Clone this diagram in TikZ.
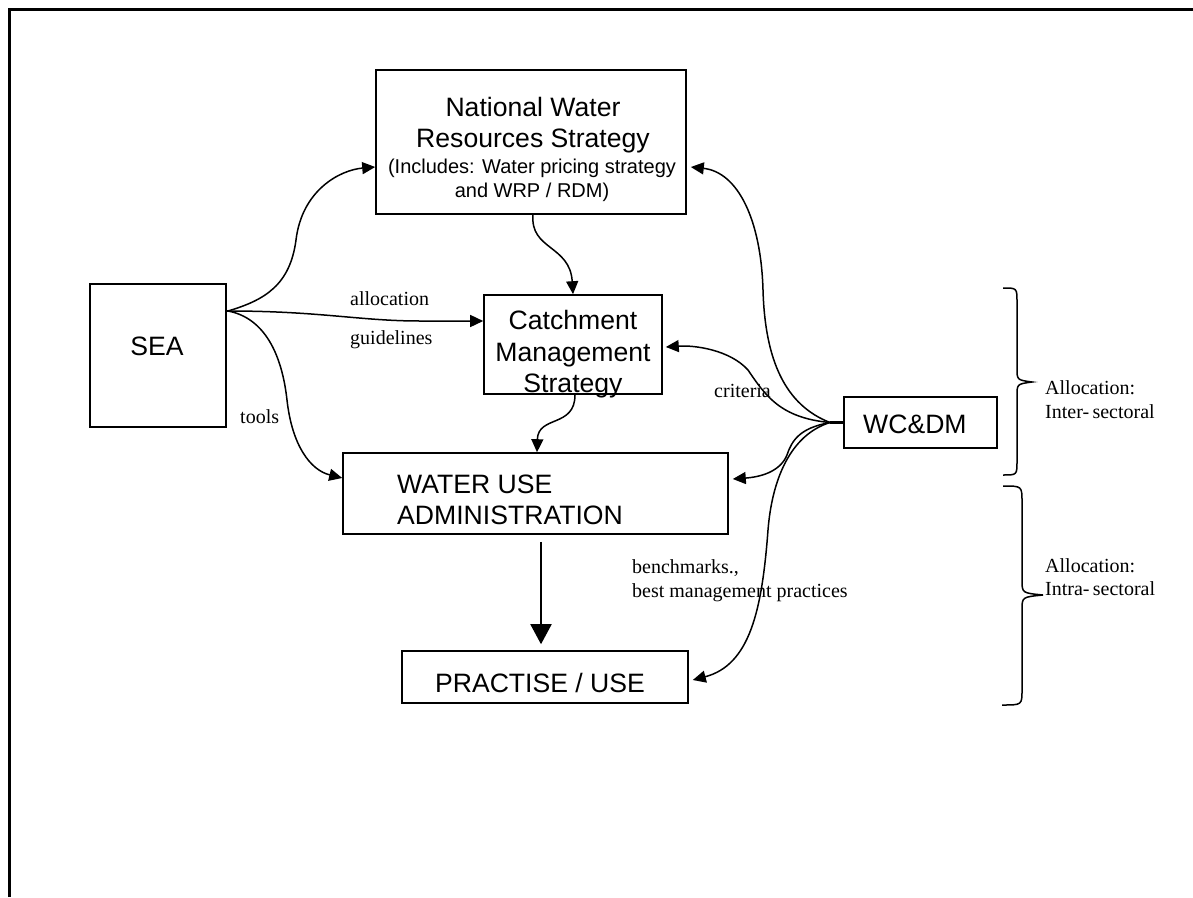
\documentclass[tikz,border=0pt]{standalone}
\usepackage{fontspec}
\setmainfont{Liberation Serif}
\newfontfamily\arialf{Liberation Sans}
\usetikzlibrary{arrows.meta}
\begin{document}
\begin{tikzpicture}[x=1pt,y=-1pt,
  box/.style={draw, line width=1.6pt, inner sep=0pt},
  conn/.style={line width=1.5pt, -{Triangle[length=13pt,width=12pt]}},
  bigarrow/.style={line width=2pt, -{Triangle[length=20pt,width=21pt]}},
  lbl/.style={font=\fontsize{20}{24}\selectfont, anchor=base west, inner sep=0pt},
  big/.style={font=\arialf\fontsize{26.6}{31}\selectfont, inner sep=0pt, anchor=base},
  small/.style={font=\arialf\fontsize{20}{24}\selectfont, inner sep=0pt, anchor=base},
  brc/.style={line width=1.5pt},
  frame/.style={line width=3pt}]
\useasboundingbox (0,0) rectangle (1193,897);
% page frame (top and left edges)
\draw[frame] (9.7,897) -- (9.7,9.7) -- (1193,9.7);

% boxes
\node[box, minimum width=310pt, minimum height=144pt] (nwrs) at (531,142) {};
\node[box, minimum width=136pt, minimum height=143pt] (sea) at (158,355.5) {};
\node[box, minimum width=178pt, minimum height=99pt] (catch) at (573,344.5) {};
\node[box, minimum width=153pt, minimum height=51pt] (wcdm) at (920.5,422.5) {};
\node[box, minimum width=385pt, minimum height=81pt] (wua) at (535.5,493.5) {};
\node[box, minimum width=286pt, minimum height=52pt] (pu) at (545,677) {};

% box texts
\node[big] (nwrs1) at (533,116) {National Water};
\node[big] (nwrs2) at (533,147) {Resources Strategy};
\node[small] (nwrs3) at (532,173) {(Includes: Water pricing strategy};
\node[small] (nwrs4) at (532,197) {and WRP / RDM)};
\node[big] (seat) at (157,355) {SEA};
\node[big] (catch1) at (573,329) {Catchment};
\node[big] (catch2) at (573,361) {Management};
\node[big] (catch3) at (573,392) {Strategy};
\node[big, anchor=base west] (wcdmt) at (863,433) {WC\&DM};
\node[big, anchor=base west] (wua1) at (397,493) {WATER USE};
\node[big, anchor=base west] (wua2) at (397,524) {ADMINISTRATION};
\node[big] (put) at (540,692) {PRACTISE / USE};

% labels
\node[lbl] (lalloc) at (350,305) {allocation};
\node[lbl] (lguide) at (350,344) {guidelines};
\node[lbl] (ltools) at (240,423) {tools};
\node[lbl] (lcrit) at (714,397) {criteria};
\node[lbl] (lbench) at (632,573) {benchmarks.,};
\node[lbl] (lbest) at (632,597) {best management practices};
\node[lbl] (lalloc1) at (1045,394) {Allocation:};
\node[lbl] (linter) at (1045,418) {Inter-\,sectoral};
\node[lbl] (lalloc2) at (1045,572) {Allocation:};
\node[lbl] (lintra) at (1045,595) {Intra-\,sectoral};

% fan points
\coordinate (seafan) at (228,311);
\coordinate (wcfan) at (830,422.5);
\draw[line width=1.5pt] (sea.east |- seafan) -- (seafan);
\draw[line width=2.8pt] (wcfan) -- (wcdm.west);

% SEA connectors
\draw[conn] (seafan) .. controls (265,300) and (290,285) .. (296,240)
  .. controls (302,190) and (340,170) .. ([yshift=-25pt]nwrs.west);
\draw[conn] (seafan) .. controls (320,311) and (360,321) .. (420,321) -- ([yshift=23.5pt]catch.west);
\draw[conn] (seafan) .. controls (265,318) and (282,355) .. (287,400)
  .. controls (292,445) and (310,470) .. ([yshift=15.5pt]wua.west);

% vertical chain
\draw[conn] ([xshift=2pt]nwrs.south) .. controls (530,250) and (570,245) .. (catch.north);
\draw[conn] ([xshift=2pt]catch.south) .. controls (575,428) and (538,415) .. ([xshift=1.5pt]wua.north);
\draw[bigarrow] ([xshift=5.5pt,yshift=-7pt]wua.south) -- ([xshift=-4pt,yshift=6pt]pu.north);

% WC&DM connectors
\draw[conn] (wcfan) .. controls (785,405) and (765,360) .. (763,290)
  .. controls (761,220) and (738,172) .. ([xshift=4pt,yshift=-25pt]nwrs.east);
\draw[conn] (wcfan) .. controls (780,418) and (765,395) .. (748,370)
  .. controls (730,350) and (695,345) .. ([xshift=3pt,yshift=-2.5pt]catch.east);
\draw[conn] (wcfan) .. controls (800,428) and (792,440) .. (787,455)
  .. controls (780,472) and (760,477) .. ([xshift=4pt,yshift=14.5pt]wua.east);
\draw[conn] (wcfan) .. controls (790,435) and (772,480) .. (768,530)
  .. controls (762,610) and (750,665) .. ([xshift=4pt,yshift=-3pt]pu.east);

% braces
\draw[brc] (1003,288) .. controls (1017,288) .. (1017,302) -- (1017,368)
  .. controls (1017,380) .. (1032,382) .. controls (1017,384) .. (1017,396)
  -- (1017,461) .. controls (1017,475) .. (1003,475);
\draw[brc] (1003,486) .. controls (1022,486) .. (1022,502) -- (1022,580)
  .. controls (1022,593) .. (1043,595) .. controls (1022,597) .. (1022,610)
  -- (1022,690) .. controls (1022,705) .. (1002,705);
\end{tikzpicture}
\end{document}
